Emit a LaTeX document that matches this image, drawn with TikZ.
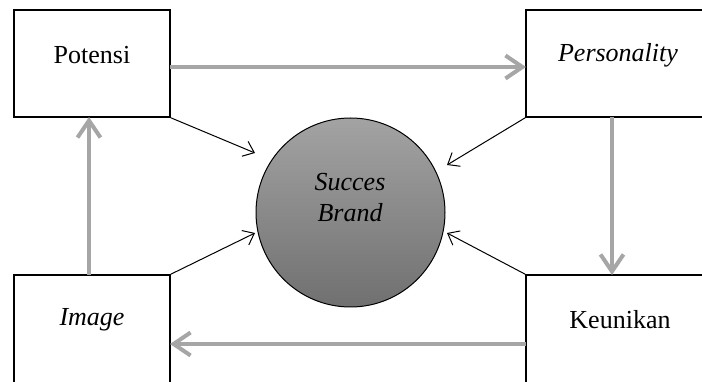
\documentclass[tikz,border=0pt]{standalone}
\usepackage{fontspec}
\setmainfont{Liberation Serif}
\usetikzlibrary{arrows.meta}
\definecolor{flowgray}{RGB}{166,166,166}
\definecolor{circtop}{RGB}{163,163,163}
\definecolor{circbot}{RGB}{112,112,112}
\tikzset{
  boxnode/.style={draw=black,line width=1.5pt,fill=white,inner sep=0pt},
  txt/.style={font=\fontsize{26}{31}\selectfont,inner sep=0pt,align=center},
  flow/.style={draw=flowgray,line width=4pt,-{Straight Barb[length=17pt,width=23pt,line width=4pt]}},
  infl/.style={draw=black,line width=1pt,-{Straight Barb[length=10pt,width=16pt,line width=1pt]}},
}
\begin{document}
\begin{tikzpicture}[x=1pt,y=-1pt]
\clip (0,0) rectangle (702,382);
\fill[white] (0,0) rectangle (702,382);
% boxes
\node[boxnode,minimum width=156pt,minimum height=107pt] (pot) at (92,63.5) {};
\node[boxnode,minimum width=196pt,minimum height=107pt] (per) at (624,63.5) {};
\node[boxnode,minimum width=156pt,minimum height=130pt] (img) at (92,340) {};
\node[boxnode,minimum width=196pt,minimum height=130pt] (keu) at (624,340) {};
% circle
\node[circle,draw=black,line width=1pt,top color=circtop,bottom color=circbot,minimum size=189pt,inner sep=0pt] (sb) at (350.5,212.5) {};
% texts
\node[txt] (tpot) at (92,55) {Potensi};
\node[txt] (tper) at (618,55) {\itshape Personality};
\node[txt] (timg) at (92,320) {\itshape Image};
\node[txt] (tkeu) at (620,320) {Keunikan};
\node[txt] (tsb) at (350,198) {\itshape Succes\\\itshape Brand};
% gray flow arrows
\coordinate (pa) at (170,67);
\coordinate (pb) at (526,67);
\draw[flow] (pa) -- (pb);
\coordinate (qa) at (612,117);
\coordinate (qb) at (612,275);
\draw[flow] (qa) -- (qb);
\coordinate (ra) at (526,344);
\coordinate (rb) at (170,344);
\draw[flow] (ra) -- (rb);
\coordinate (sa) at (89,275);
\coordinate (sbb) at (89,117);
\draw[flow] (sa) -- (sbb);
% black influence arrows
\coordinate (tl) at (255,153);
\coordinate (tr) at (447,165);
\coordinate (bl) at (255,233);
\coordinate (br) at (447,233);
\draw[infl] (pot.south east) -- (tl);
\draw[infl] (per.south west) -- (tr);
\draw[infl] (img.north east) -- (bl);
\draw[infl] (keu.north west) -- (br);
\end{tikzpicture}
\end{document}
